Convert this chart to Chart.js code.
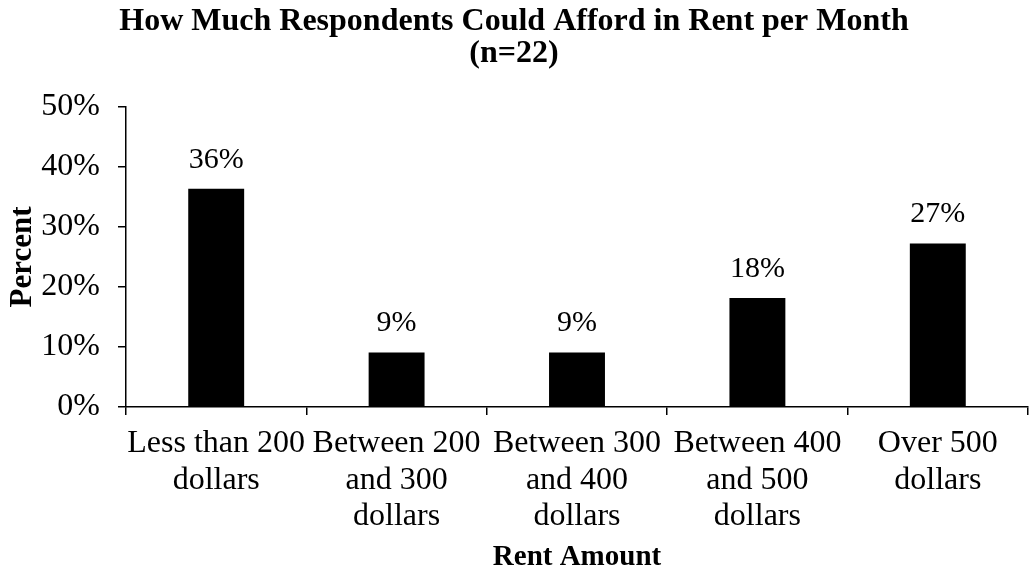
<!DOCTYPE html>
<html>
<head>
<meta charset="utf-8">
<title>Rent per Month</title>
<script src="https://cdn.jsdelivr.net/npm/chart.js@4.4.1/dist/chart.umd.min.js"></script>
<style>
  body { margin: 0; background: #fff; }
  #wrap { width: 1029px; height: 578px; position: relative; }
</style>
</head>
<body>
<div id="wrap"><canvas id="rentChart"></canvas></div>
<script>
// chart values
const rent_categories = [
  ['Less than 200', 'dollars'],
  ['Between 200', 'and 300', 'dollars'],
  ['Between 300', 'and 400', 'dollars'],
  ['Between 400', 'and 500', 'dollars'],
  ['Over 500', 'dollars']
]
const percent_values = [36.36, 9.09, 9.09, 18.18, 27.27]
const value_labels = ['36%', '9%', '9%', '18%', '27%']
const title_lines = ['How Much Respondents Could Afford in Rent per Month', '(n=22)']

const serif = "'Liberation Serif', 'Times New Roman', serif"

// draws the % text above each bar
const barLabels = {
  id: 'barLabels',
  afterDatasetsDraw(chart) {
    const ctx = chart.ctx
    const meta = chart.getDatasetMeta(0)
    ctx.save()
    ctx.font = `30px ${serif}`
    ctx.fillStyle = '#000'
    ctx.textAlign = 'center'
    ctx.textBaseline = 'alphabetic'
    meta.data.forEach((bar, i) => {
      ctx.fillText(value_labels[i], bar.x, bar.y - 21)
    })
    ctx.restore()
  }
}

const ctx = document.getElementById('rentChart').getContext('2d');

const chart = new Chart(ctx, {
  type: 'bar',
  data: {
    labels: rent_categories,
    datasets: [
      {
        label: 'Percent',
        data: percent_values,
        backgroundColor: '#000',
        borderWidth: 0,
        barPercentage: 0.31,
        categoryPercentage: 1.0
      }
    ]
  },
  plugins: [barLabels],
  options: {
    responsive: true,
    maintainAspectRatio: false,
    animation: false,
    layout: {
      padding: { left: 0, right: 1, top: 0, bottom: 0 }
    },
    plugins: {
      legend: { display: false },
      tooltip: { enabled: false },
      title: {
        display: true,
        text: title_lines,
        color: '#000',
        font: { family: serif, size: 32, weight: 'bold', lineHeight: 1.0 },
        padding: { top: 6, bottom: 37 }
      }
    },
    scales: {
      x: {
        afterFit: (scale) => { scale.height = 171 },
        title: {
          display: true,
          text: 'Rent Amount',
          color: '#000',
          font: { family: serif, size: 29, weight: 'bold' },
          padding: { top: 0, bottom: 3 }
        },
        ticks: {
          color: '#000',
          font: { family: serif, size: 32, lineHeight: 1.15 },
          padding: 10,
          autoSkip: false,
          maxRotation: 0,
          minRotation: 0
        },
        grid: {
          offset: true,
          drawOnChartArea: false,
          color: '#000',
          lineWidth: 1.5,
          tickLength: 8
        },
        border: { color: '#000', width: 1.5 }
      },
      y: {
        min: 0,
        max: 50,
        afterFit: (scale) => { scale.width = 126 },
        title: {
          display: true,
          text: 'Percent',
          color: '#000',
          font: { family: serif, size: 31, weight: 'bold' },
          padding: { top: 4, bottom: 0 }
        },
        ticks: {
          stepSize: 10,
          color: '#000',
          font: { family: serif, size: 32 },
          padding: 18,
          callback: (value) => value + '%'
        },
        grid: {
          drawOnChartArea: false,
          color: '#000',
          lineWidth: 1.5,
          tickLength: 8
        },
        border: { color: '#000', width: 1.5 }
      }
    }
  }
})
</script>
</body>
</html>
